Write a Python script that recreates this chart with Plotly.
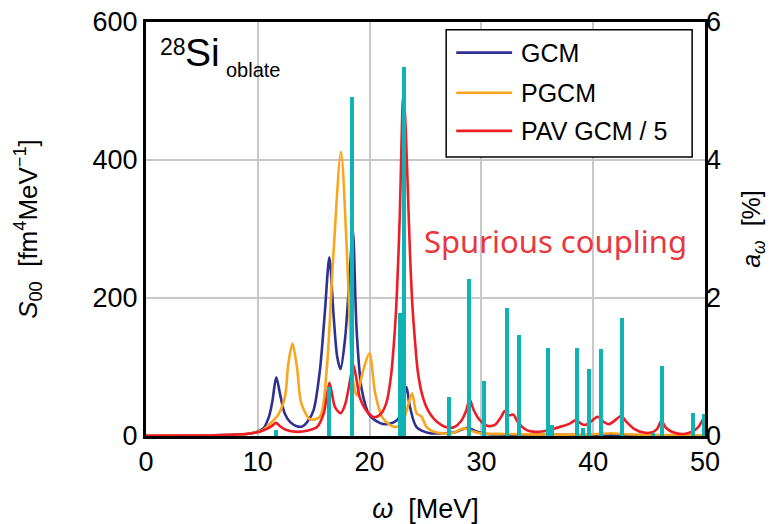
import plotly.graph_objects as go

# ---- data ----
gcm_w = [0, 4, 6, 8, 9.0, 9.9, 10.5, 11.0, 11.3, 11.65, 12.0, 12.4, 12.9, 13.5, 14.0, 14.5, 15.0,
         15.56, 16.0, 16.4, 16.8, 17.1, 17.4, 17.8, 18.2, 18.5, 18.85, 19.3, 20.0, 20.9, 21.5,
         22.2, 22.7, 23.0, 23.3, 23.6, 24.2, 25.4, 26.5, 27.5, 28.2, 28.8, 29.5, 30.5, 32, 35, 40, 45, 50]
gcm_s = [0.3, 0.6, 1.0, 2.0, 3, 6, 11, 28, 50, 85, 60, 33, 20, 14, 14, 22, 38,
         96, 180, 259, 170, 115, 97, 140, 230, 298, 150, 67, 30, 19, 17,
         20, 28, 50, 71, 43, 13, 4, 4, 5, 9, 12, 7, 3, 2, 2, 1.5, 1, 1]

pgcm_w = [0, 4, 7, 9, 10.5, 11.1, 11.8, 12.43, 12.73, 13.1, 13.5, 13.9, 14.7, 15.56, 16.16, 16.75,
          17.44, 17.95, 18.25, 18.55, 18.85, 19.44, 19.98, 20.5, 21.1, 21.8, 22.4, 23.0, 23.4,
          23.8, 24.2, 24.65, 25.1, 26.0, 27.4, 28.4, 29.0, 29.9, 32, 36, 40, 41.6, 43, 46, 50]
pgcm_s = [0.2, 0.5, 1.2, 3, 9, 18, 30, 57, 105, 134, 100, 47, 24, 28, 96, 260,
          412, 274, 154, 76, 59, 96, 120, 62, 28, 16, 13, 22, 42,
          62, 33, 28, 13, 5, 4, 11, 8, 4, 3, 2, 2.5, 4, 2.5, 1.5, 1]

pav_w = [0, 4, 7, 8.5, 9.5, 10.3, 10.9, 11.3, 11.63, 12.0, 12.5, 13.5, 14.5, 15.3, 15.9, 16.15, 16.4,
         16.65, 16.9, 17.4, 17.8, 18.1, 18.55, 18.85, 19.1, 19.5, 19.9, 20.4, 21.0, 21.5, 21.9,
         22.2, 22.45, 22.7, 22.85, 23.0, 23.15, 23.35, 23.6, 23.8, 24.0, 24.3, 24.7, 25.2, 25.8,
         26.4, 27.0, 27.6, 28.2, 28.6, 28.95, 29.3, 29.8, 30.5, 31.2, 31.7, 32.1, 32.5, 32.85,
         33.3, 34.0, 34.8, 35.6, 36.4, 37.2, 37.9, 38.45, 38.9, 39.3, 39.8, 40.4, 40.9, 41.4,
         41.9, 42.5, 43.0, 43.7, 44.5, 45.2, 45.7, 46.1, 46.5, 47.2, 48.1, 48.8, 49.4, 50]
pav_s = [0.3, 0.6, 1.2, 2.5, 4, 7, 11, 15, 19, 14, 9, 6, 8, 13, 33, 55, 77,
         60, 42, 33, 45, 67, 103, 80, 57, 42, 33, 27, 32, 48, 85,
         140, 210, 320, 420, 492, 470, 390, 270, 197, 150, 95, 60, 38, 24,
         16, 12, 13, 22, 35, 53, 38, 24, 15, 16, 26, 36, 30, 31,
         19, 9, 6, 7, 10, 14, 18, 23, 18, 16, 21, 28, 21, 17,
         22, 29, 20, 10, 5, 5, 10, 22, 12, 5, 3, 6, 13, 30]

bar_w = [11.6, 16.4, 18.4, 22.72, 23.12, 27.13, 28.92, 30.23, 32.26, 33.33, 35.99, 36.35,
         38.52, 39.11, 39.65, 40.70, 42.55, 45.38, 46.12, 48.96, 49.9]
bar_a = [0.09, 0.71, 4.91, 1.78, 5.35, 0.57, 2.28, 0.80, 1.86, 1.46, 1.28, 0.16,
         1.27, 0.12, 0.97, 1.26, 1.71, 0.04, 1.02, 0.34, 0.32]

series_names = ["GCM", "PGCM", "PAV GCM / 5"]
series_colors = ["#2E3192", "#FBA51E", "#EE1C25"]

x_ticks = [0, 10, 20, 30, 40, 50]
y_ticks = [0, 200, 400, 600]
y2_ticks = [0, 2, 4, 6]

FONT = "Liberation Sans"
fig = go.Figure()
line_kw = dict(shape="spline", smoothing=0.8, width=2.6)
for xs, ys, nm, col in zip([gcm_w, pgcm_w, pav_w], [gcm_s, pgcm_s, pav_s], series_names, series_colors):
    fig.add_trace(go.Scatter(x=xs, y=ys, mode="lines", name=nm, showlegend=False,
                             line=dict(color=col, **line_kw)))
fig.add_trace(go.Bar(x=bar_w, y=bar_a, width=0.36, marker=dict(color="#0FB2B5", line=dict(width=0)),
                     yaxis="y2", showlegend=False))

fig.update_layout(
    width=781, height=524,
    margin=dict(l=146, r=76, t=22, b=88, autoexpand=False),
    plot_bgcolor="white", paper_bgcolor="white",
    font=dict(family=FONT, color="black"),
    bargap=0,
    showlegend=False,
    xaxis=dict(range=[0, 50], tickvals=x_ticks, showgrid=True, gridcolor="#c8c8c8", gridwidth=1.5,
               showline=True, linecolor="black", linewidth=3, mirror=True, zeroline=False,
               ticks="", tickfont=dict(size=27), automargin=False,
               title=dict(text="<i>ω</i>  [MeV]", font=dict(size=27), standoff=30)),
    yaxis=dict(range=[0, 600], tickvals=y_ticks, showgrid=True, gridcolor="#c8c8c8", gridwidth=1.5,
               showline=True, linecolor="black", linewidth=3, mirror=True, zeroline=False,
               ticks="", tickfont=dict(size=27), automargin=False,
               title=dict(text="<i>S</i><sub>00</sub>  [fm<sup>4</sup>MeV<sup>−1</sup>]",
                          font=dict(size=26), standoff=48)),
    yaxis2=dict(range=[0, 6], tickvals=y2_ticks, overlaying="y", side="right", showgrid=False,
                showline=False, zeroline=False, ticks="", tickfont=dict(size=27), automargin=False,
                title=dict(text="<i>a</i><sub><i>ω</i></sub>  [%]", font=dict(size=25), standoff=22)),
)

# legend box drawn by hand (layout decoration)
fig.add_shape(type="rect", xref="paper", yref="paper", x0=0.537, x1=0.977, y0=0.674, y1=0.981,
              line=dict(color="black", width=1.5), fillcolor="white", layer="above")
leg_y = [0.926, 0.829, 0.737]
for nm, col, yy in zip(series_names, series_colors, leg_y):
    fig.add_shape(type="line", xref="paper", yref="paper", x0=0.555, x1=0.655, y0=yy, y1=yy,
                  line=dict(color=col, width=2.6), layer="above")
    fig.add_annotation(xref="paper", yref="paper", x=0.668, y=yy, xanchor="left", yanchor="middle",
                       text=nm, showarrow=False, font=dict(size=25))

fig.add_annotation(xref="paper", yref="paper", x=0.022, y=0.975, xanchor="left", yanchor="top",
                   text="28", showarrow=False, font=dict(size=23))
fig.add_annotation(xref="paper", yref="paper", x=0.066, y=0.982, xanchor="left", yanchor="top",
                   text="Si", showarrow=False, font=dict(size=39))
fig.add_annotation(xref="paper", yref="paper", x=0.14, y=0.915, xanchor="left", yanchor="top",
                   text="oblate", showarrow=False, font=dict(size=20))
fig.add_annotation(xref="x", yref="y", x=36.6, y=282, text="Spurious coupling", showarrow=False,
                   font=dict(size=31, color="#E8383D", family="Noto Sans"))

fig.write_html("out.html")
